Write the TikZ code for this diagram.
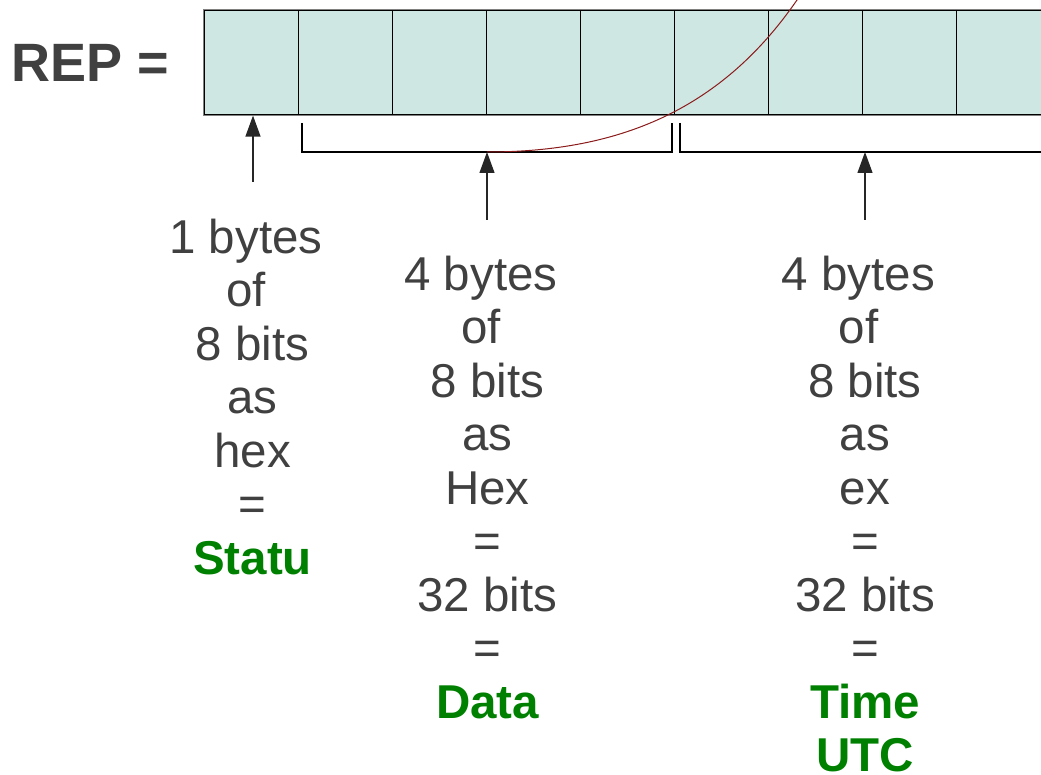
\documentclass[tikz,border=0pt]{standalone}
\usepackage{fontspec}
\setmainfont{Liberation Sans}
\usetikzlibrary{arrows.meta}
\definecolor{cellfill}{HTML}{CFE7E3}
\definecolor{txt}{HTML}{404040}
\definecolor{lbl}{HTML}{008000}
\definecolor{curvecol}{HTML}{8B1A1A}
\newcommand{\tsp}{\kern0.278em}
\begin{document}
\begin{tikzpicture}[x=1pt,y=-1pt,
  cell/.style={draw=black, fill=cellfill, minimum width=94.1pt, minimum height=105pt, inner sep=0pt, line width=1.2pt},
  edge/.style={draw=black!50, line width=1.6pt},
  desc/.style={font=\fontsize{47.5}{53.5}\selectfont, text=txt, align=center, inner sep=0pt, anchor=base},
  brk/.style={draw=black, line width=1.2pt},
  arr/.style={draw=black!85, line width=1.2pt, -{Triangle[length=21pt,width=15pt]}},
  curve/.style={draw=curvecol, line width=1pt}]
\useasboundingbox (0,0) rectangle (1041,775);
\begin{scope}
\clip (0,0) rectangle (1041,775);
% byte cells
\foreach \i in {0,...,8}
  \node[cell] (c\i) at ({204+94.1*\i+47.05},62.5) {};
\draw[edge] (c0.north west) -- (c8.north east);
\draw[edge] (c0.south west) -- (c8.south east);
\draw[edge] (c0.north west) -- (c0.south west);
% brackets
\coordinate (b1a) at (302,123);
\coordinate (b1b) at (672,123);
\coordinate (b1m) at (487,152);
\coordinate (b2a) at (680,123);
\coordinate (b2b) at (1050,152);
\coordinate (b2m) at (865,152);
\draw[brk] (b1a) |- (b1m) -| (b1b);
\draw[brk] (b2a) |- (b2b);
% red curve
\coordinate (cend) at (810,-20);
\draw[curve] (b1m) .. controls (620,152) and (730,110) .. (cend);
% arrows
\coordinate (a1) at (253,182);
\coordinate (a2) at (487,220);
\coordinate (a3) at (865,220);
\draw[arr] (a1) -- (c0.south -| a1);
\draw[arr] (a2) -- (b1m);
\draw[arr] (a3) -- (b2m);
% texts
\node[font=\bfseries\fontsize{54}{60}\selectfont, text=txt, anchor=base west, inner sep=0pt] (rep) at (11,82) {REP =};
\node[desc] (t1) at (252.5,574) {1 bytes\tsp\\of\tsp\\8 bits\\as\\hex\\=\\{\bfseries\color{lbl}Statu}};
\node[desc] (t2) at (487.5,718) {4 bytes\tsp\\of\tsp\\8 bits\\as\\Hex\\=\\32 bits\\=\\{\bfseries\color{lbl}Data}};
\node[desc] (t3) at (865,771.5) {4 bytes\tsp\\of\tsp\\8 bits\\as\\ex\\=\\32 bits\\=\\{\bfseries\color{lbl}Time}\\{\bfseries\color{lbl}UTC}};
\end{scope}
\end{tikzpicture}
\end{document}
